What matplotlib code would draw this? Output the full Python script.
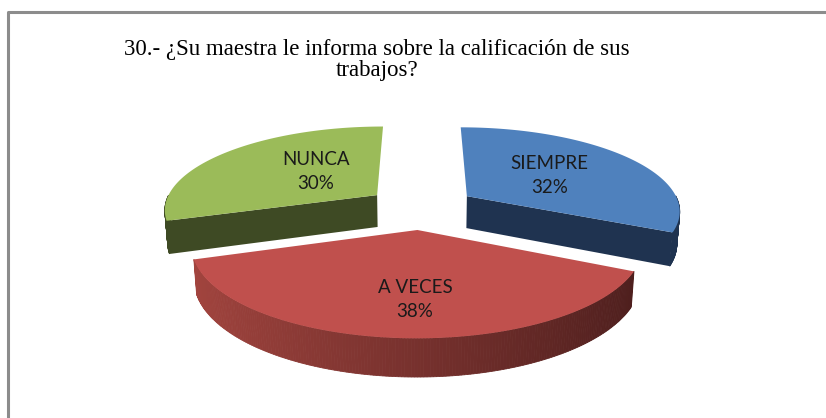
import numpy as np
import matplotlib
matplotlib.use("Agg")
import matplotlib.pyplot as plt
from matplotlib.patches import Polygon
from matplotlib.colors import to_rgb

title = "30.- ¿Su maestra le informa sobre la calificación de sus\ntrabajos?"
categories = ["SIEMPRE", "A VECES", "NUNCA"]
values = [32, 38, 30]
top_colors = ["#4F81BD", "#C0504D", "#9BBB59"]
side_colors = ["#1F3350", "#A4453F", "#3E4A24"]
side_dark = ["#1F3350", "#4A1D1C", "#3E4A24"]
label_r = [0.5, 0.68, 0.45]
label_dang = [0.0, -3.0, 9.0]

# projection parameters (pixel space)
W, H = 826, 418
cx, cy = 421, 207.5
s_e, c_e = 0.389, 0.921
D, f = 5.80, 1239.0
hgt = 0.167
explode = 0.26

def proj(X, Y, z):
    X = np.asarray(X, float); Y = np.asarray(Y, float); z = np.asarray(z, float)
    yc = z * c_e + Y * s_e
    dc = D + Y * c_e - z * s_e
    return cx + f * X / dc, cy - f * yc / dc

fig = plt.figure(figsize=(W / 100, H / 100), dpi=100)
ax = fig.add_axes([0, 0, 1, 1])
ax.set_xlim(0, W)
ax.set_ylim(H, 0)
ax.axis("off")

# frame
ax.plot([7.5, 7.5, W], [H, 11.5, 11.5], color="#8C8C8C", lw=2.2, solid_capstyle="butt")

ax.text(377, 60, title, ha="center", va="center", fontsize=16.5,
        family="Liberation Serif", linespacing=1.0)

total = sum(values)
bounds = np.cumsum([0] + values) / total * 360.0
slices = []
for i in range(len(values)):
    a0, a1 = bounds[i], bounds[i + 1]
    mid = np.radians((a0 + a1) / 2)
    ox, oy = explode * np.sin(mid), explode * np.cos(mid)
    slices.append((i, a0, a1, ox, oy))

for i, a0, a1, ox, oy in sorted(slices, key=lambda sl: sl[4], reverse=True):
    th = np.radians(np.linspace(a0, a1, 200))
    Xs = ox + np.sin(th); Ys = oy + np.cos(th)
    # radial walls
    for ang, sign in ((a0, -1), (a1, 1)):
        nang = np.radians(ang + sign * 90)
        if np.cos(nang) < 0:  # faces viewer
            r = np.radians(ang)
            PX = [ox, ox + np.sin(r), ox + np.sin(r), ox]
            PY = [oy, oy + np.cos(r), oy + np.cos(r), oy]
            PZ = [0, 0, -hgt, -hgt]
            u, v = proj(PX, PY, PZ)
            ax.add_patch(Polygon(np.c_[u, v], closed=True, fc=side_colors[i], ec="none"))
    # outer wall (front-facing parts)
    c0 = np.array(to_rgb(side_colors[i])); c1 = np.array(to_rgb(side_dark[i]))
    for k in range(len(th) - 1):
        tm = (th[k] + th[k + 1]) / 2
        if np.cos(tm) >= 0:
            continue
        PX = [Xs[k], Xs[k + 1], Xs[k + 1], Xs[k]]
        PY = [Ys[k], Ys[k + 1], Ys[k + 1], Ys[k]]
        PZ = [0, 0, -hgt, -hgt]
        u, v = proj(PX, PY, PZ)
        t = np.clip((np.sin(tm) + 1) / 2, 0, 1)
        col = c0 * (1 - t) + c1 * t
        ax.add_patch(Polygon(np.c_[u, v], closed=True, fc=col, ec=col, lw=0.6))
    # top face
    PX = np.r_[ox, Xs]; PY = np.r_[oy, Ys]
    u, v = proj(PX, PY, np.zeros_like(PX))
    ax.add_patch(Polygon(np.c_[u, v], closed=True, fc=top_colors[i], ec="none"))
    # label
    m = np.radians((a0 + a1) / 2 + label_dang[i])
    u, v = proj(ox + label_r[i] * np.sin(m), oy + label_r[i] * np.cos(m), 0)
    ax.text(u, v, f"{categories[i]}\n{values[i]}%", ha="center", va="center",
            fontsize=13.5, family="Lato", color="#1a1a1a", linespacing=1.5)

fig.savefig("out.png", dpi=100, facecolor="white")
